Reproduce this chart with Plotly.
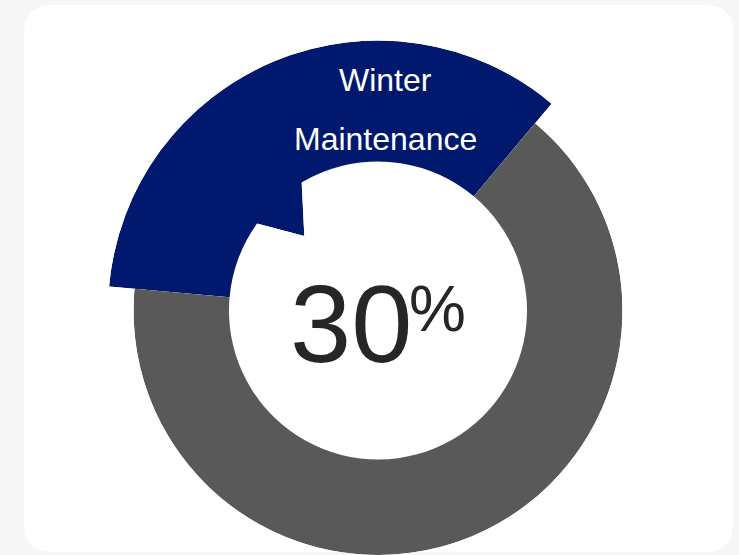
import math
import plotly.graph_objects as go

W, H = 739, 555

# ---------------- data ----------------
categories = ["Winter Maintenance", "Other"]
ring_share = [34.7, 65.3]          # share of the ring each segment covers, as drawn (%)
label_lines = ["Winter", "Maintenance"]
center_value = 30                  # number printed in the middle (%)
notch_share = [20.1]               # small wedge of the highlighted segment that pokes into the hole (%)

# ---------------- geometry / style ----------------
CX, CY = 378.0, 310.5              # ring centre (px from top-left)
R_IN = 149.0
R_GRAY = H - CY                    # grey ring outer radius
R_BLUE = 270.0                     # highlighted segment outer radius
START_DEG = 50.0                   # where the highlighted segment starts (math angle, ccw)
NOTCH_C = (304.3, 236.0)
NOTCH_R = 80.0
NOTCH_START = 92.8
BLUE = "#00196E"
GRAY = "#595959"
TEXT = "#262626"
FONT = "Liberation Sans, Arial, sans-serif"


def sector_bbox(s0, s1):
    arc = s1 - s0
    a0 = s0 % 360
    a1 = a0 + arc
    ax0, ay0 = math.cos(math.radians(a0)), math.sin(math.radians(a0))
    ax1, ay1 = math.cos(math.radians(a1)), math.sin(math.radians(a1))
    if (a0 <= 90 and a1 >= 90) or (a0 > 90 and a1 >= 450):
        y1 = 1
    elif ay0 <= 0 and ay1 <= 0:
        y1 = 0
    else:
        y1 = max(ay0, ay1)
    if (a0 <= 180 and a1 >= 180) or (a0 > 180 and a1 >= 540):
        x0 = -1
    elif ax0 >= 0 and ax1 >= 0:
        x0 = 0
    else:
        x0 = min(ax0, ax1)
    if (a0 <= 270 and a1 >= 270) or (a0 > 270 and a1 >= 630):
        y0 = -1
    elif ay0 >= 0 and ay1 >= 0:
        y0 = 0
    else:
        y0 = min(ay0, ay1)
    if a1 >= 360:
        x1 = 1
    elif ax0 <= 0 and ax1 <= 0:
        x1 = 0
    else:
        x1 = max(ax0, ax1)
    return x0, y0, x1, y1


def polar_domain(cx, cy, r, sector):
    x0, y0, x1, y1 = sector_bbox(*sector)
    left, right = cx + r * x0, cx + r * x1
    top, bottom = cy - r * y1, cy - r * y0
    clamp = lambda v: min(1.0, max(0.0, v))
    return dict(x=[clamp(left / W), clamp(right / W)],
                y=[clamp(1 - bottom / H), clamp(1 - top / H)])


def polar_layout(cx, cy, r, sector):
    return dict(
        domain=polar_domain(cx, cy, r, sector),
        sector=list(sector),
        bgcolor="rgba(0,0,0,0)",
        hole=0,
        radialaxis=dict(visible=False, range=[0, r]),
        angularaxis=dict(visible=False, direction="counterclockwise", rotation=0),
    )


blue_span = ring_share[0] / 100 * 360
gray_span = ring_share[1] / 100 * 360
blue_sector = (START_DEG, START_DEG + blue_span)
notch_span = notch_share[0] / 100 * 360
notch_sector = (NOTCH_START, NOTCH_START + notch_span)

fig = go.Figure()

# grey ring (the "Other" part)
fig.add_trace(go.Barpolar(
    r=[R_GRAY - R_IN], base=[R_IN],
    theta=[START_DEG + blue_span + gray_span / 2], width=[gray_span],
    marker=dict(color=GRAY, line=dict(width=0)),
    name=categories[1], subplot="polar", hoverinfo="skip", showlegend=False,
))
# highlighted segment
fig.add_trace(go.Barpolar(
    r=[R_BLUE - R_IN], base=[R_IN],
    theta=[START_DEG + blue_span / 2], width=[blue_span],
    marker=dict(color=BLUE, line=dict(width=0)),
    name=categories[0], subplot="polar2", hoverinfo="skip", showlegend=False,
))
# notch wedge of the highlighted segment
fig.add_trace(go.Barpolar(
    r=[NOTCH_R], base=[0],
    theta=[NOTCH_START + notch_span / 2], width=[notch_span],
    marker=dict(color=BLUE, line=dict(width=0)),
    name=categories[0], subplot="polar3", hoverinfo="skip", showlegend=False,
))

# white card with rounded corners
cx0, cx1, cy0, cy1, rad = 24, 733, 5, 552, 28
def px(x): return x / W
def py(y): return 1 - y / H
card = (f"M {px(cx0+rad)} {py(cy0)} L {px(cx1-rad)} {py(cy0)} "
        f"Q {px(cx1)} {py(cy0)} {px(cx1)} {py(cy0+rad)} L {px(cx1)} {py(cy1-rad)} "
        f"Q {px(cx1)} {py(cy1)} {px(cx1-rad)} {py(cy1)} L {px(cx0+rad)} {py(cy1)} "
        f"Q {px(cx0)} {py(cy1)} {px(cx0)} {py(cy1-rad)} L {px(cx0)} {py(cy0+rad)} "
        f"Q {px(cx0)} {py(cy0)} {px(cx0+rad)} {py(cy0)} Z")

annotations = [
    dict(text=label_lines[0], x=385 / W, y=1 - 80.5 / H, xref="paper", yref="paper",
         showarrow=False, xanchor="center", yanchor="middle",
         font=dict(family=FONT, size=32, color="white")),
    dict(text=label_lines[1], x=385 / W, y=1 - 139 / H, xref="paper", yref="paper",
         showarrow=False, xanchor="center", yanchor="middle",
         font=dict(family=FONT, size=32, color="white")),
    dict(text=str(center_value), x=351 / W, y=1 - 323.5 / H, xref="paper", yref="paper",
         showarrow=False, xanchor="center", yanchor="middle",
         font=dict(family=FONT, size=110, color=TEXT)),
    dict(text="%", x=437.5 / W, y=1 - 309 / H, xref="paper", yref="paper",
         showarrow=False, xanchor="center", yanchor="middle",
         font=dict(family=FONT, size=64, color=TEXT)),
]

fig.update_layout(
    template="none",
    width=W, height=H,
    margin=dict(l=0, r=0, t=0, b=0, pad=0),
    paper_bgcolor="#f6f6f6",
    plot_bgcolor="rgba(0,0,0,0)",
    showlegend=False,
    polar=polar_layout(CX, CY, R_GRAY, (0, 360)),
    polar2=polar_layout(CX, CY, R_BLUE, blue_sector),
    polar3=polar_layout(NOTCH_C[0], NOTCH_C[1], NOTCH_R, notch_sector),
    shapes=[dict(type="path", path=card, xref="paper", yref="paper",
                 fillcolor="white", line=dict(width=0), layer="below")],
    annotations=annotations,
)

fig.write_html(
    "out.html",
    config={"displayModeBar": False},
    post_script="document.body.style.margin='0';document.body.style.overflow='hidden';",
)
